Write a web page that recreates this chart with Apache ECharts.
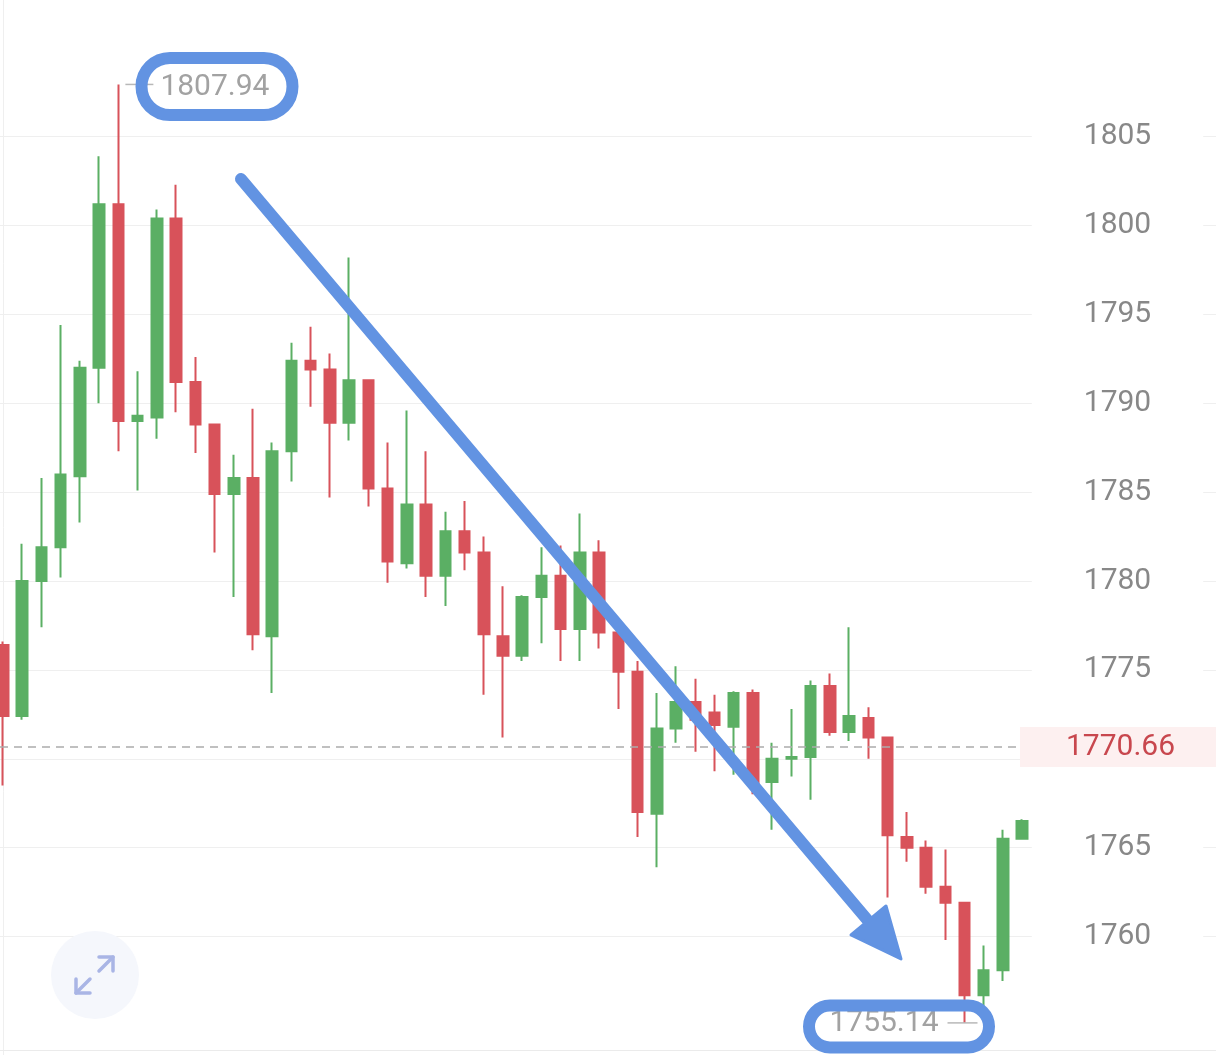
<!DOCTYPE html>
<html>
<head>
<meta charset="utf-8">
<script src="https://cdn.jsdelivr.net/npm/echarts@6/dist/echarts.min.js"></script>
<style>
  html, body { margin: 0; padding: 0; background: #fff; }
  #chart { width: 1216px; height: 1055px; }
</style>
</head>
<body>
<div id="chart"></div>
<script>
// candle values, left to right (open / close / low / high)
const opens  = [1776.4, 1772.4, 1780.0, 1781.9, 1785.9, 1792.0, 1801.2, 1789.0, 1789.2, 1800.4,
                1791.2, 1788.8, 1784.9, 1785.8, 1776.9, 1787.3, 1792.4, 1791.9, 1788.9, 1791.3,
                1785.2, 1781.0, 1784.3, 1780.3, 1782.8, 1781.6, 1776.9, 1775.8, 1779.1, 1780.3,
                1777.3, 1781.6, 1777.1, 1774.9, 1766.9, 1771.7, 1773.2, 1772.6, 1771.8, 1773.7,
                1768.7, 1770.0, 1770.1, 1774.1, 1771.5, 1772.3, 1771.2, 1765.6, 1765.0, 1762.8,
                1761.9, 1756.7, 1758.1, 1765.5];
const closes = [1772.4, 1780.0, 1781.9, 1786.0, 1792.0, 1801.2, 1789.0, 1789.3, 1800.4, 1791.2,
                1788.8, 1784.9, 1785.8, 1777.0, 1787.3, 1792.4, 1791.9, 1788.9, 1791.3, 1785.2,
                1781.1, 1784.3, 1780.3, 1782.8, 1781.6, 1777.0, 1775.8, 1779.1, 1780.3, 1777.3,
                1781.6, 1777.1, 1774.9, 1767.0, 1771.7, 1773.2, 1772.2, 1771.9, 1773.7, 1768.6,
                1770.0, 1770.1, 1774.1, 1771.5, 1772.4, 1771.2, 1765.7, 1765.0, 1762.8, 1761.9,
                1756.7, 1758.1, 1765.5, 1766.5];
const lows   = [1768.5, 1772.2, 1777.4, 1780.2, 1783.3, 1790.0, 1787.3, 1785.1, 1788.0, 1789.5,
                1787.2, 1781.6, 1779.1, 1776.1, 1773.7, 1785.6, 1789.8, 1784.7, 1787.9, 1784.2,
                1779.9, 1780.7, 1779.1, 1778.6, 1780.6, 1773.6, 1771.2, 1775.5, 1776.5, 1775.5,
                1775.5, 1776.2, 1772.8, 1765.6, 1763.9, 1770.9, 1770.4, 1769.3, 1769.1, 1768.0,
                1766.0, 1769.0, 1767.7, 1771.3, 1771.0, 1770.0, 1762.2, 1764.2, 1762.4, 1759.8,
                1755.14, 1756.0, 1757.5, 1765.5];
const highs  = [1776.6, 1782.1, 1785.8, 1794.4, 1792.4, 1803.9, 1807.94, 1791.8, 1800.9, 1802.3,
                1792.6, 1788.8, 1787.1, 1789.7, 1787.8, 1793.4, 1794.3, 1792.8, 1798.2, 1791.3,
                1787.8, 1789.6, 1787.3, 1783.9, 1784.5, 1782.5, 1779.7, 1779.2, 1781.9, 1782.0,
                1783.8, 1782.3, 1777.2, 1775.5, 1773.7, 1775.2, 1774.5, 1773.6, 1773.8, 1773.9,
                1770.9, 1772.8, 1774.4, 1774.8, 1777.4, 1772.9, 1771.2, 1767.0, 1765.4, 1764.9,
                1761.9, 1759.5, 1766.0, 1766.6];

const lastPrice = 1770.66;
const tickValues = [1760, 1765, 1770, 1775, 1780, 1785, 1790, 1795, 1800, 1805];
const priceMin = 1750;
const priceMax = 1815;
const priceStep = 5;

const UP = '#5baf64';
const DOWN = '#d8525a';
const BLUE = '#6293e2';
const FONT = 'Roboto';

const candles = opens.map((o, i) => [i, o, closes[i], lows[i], highs[i]]);

const chart = echarts.init(document.getElementById('chart'));

// price range is taller than the canvas, only ~1753..1812 shows
const gridTop = -41.05;
const gridHeight = 1155.3;

const option = {
  animation: false,
  backgroundColor: '#fff',
  grid: [
    { left: 0, width: 1020, top: gridTop, height: gridHeight, outerBoundsMode: 'none', containLabel: false },
    { left: 0, right: 0, top: gridTop, height: gridHeight, outerBoundsMode: 'none', containLabel: false }
  ],
  xAxis: [
    { gridIndex: 0, type: 'value', min: -0.156, max: 52.886, show: false },
    { gridIndex: 1, type: 'value', min: 0, max: 1, show: false }
  ],
  yAxis: [
    {
      gridIndex: 0, type: 'value', position: 'right',
      min: priceMin, max: priceMax, interval: priceStep,
      axisLine: { show: true, lineStyle: { color: '#efefef', width: 1 } },
      axisTick: { show: false }, axisLabel: { show: false }, splitLine: { show: false }
    },
    {
      gridIndex: 1, type: 'value', position: 'right', z: 3,
      min: priceMin, max: priceMax, interval: priceStep,
      axisLine: { show: false }, axisTick: { show: false }, splitLine: { show: false },
      axisLabel: {
        customValues: tickValues,
        inside: true, margin: 98.5, align: 'center',
        formatter: v => (tickValues.includes(v) ? String(v) : ''),
        color: '#888', fontSize: 30, fontFamily: FONT,
        backgroundColor: '#fff', padding: [10, 52, 2, 52]
      }
    }
  ],
  series: [
    {
      // horizontal grid lines across the whole width
      type: 'line',
      xAxisIndex: 1, yAxisIndex: 1,
      z: 0,
      data: [],
      silent: true,
      markLine: {
        z: 1,
        animation: false,
        silent: true,
        symbol: ['none', 'none'],
        label: { show: false },
        emphasis: { disabled: true },
        lineStyle: { color: '#efefef', type: 'solid', width: 1 },
        data: tickValues.map(v => ({ yAxis: v }))
      }
    },
    {
      type: 'candlestick',
      xAxisIndex: 0, yAxisIndex: 0,
      z: 4,
      clip: true,
      barWidth: 11,
      encode: { x: 0, y: [1, 2, 3, 4] },
      data: candles,
      itemStyle: { color: UP, color0: DOWN, borderColor: UP, borderColor0: DOWN, borderWidth: 2 },
      emphasis: { disabled: true },
      markPoint: {
        z: 5,
        animation: false,
        silent: true,
        symbol: 'rect',
        itemStyle: { color: '#b8b8b8' },
        label: {
          color: '#a2a2a2', fontSize: 30, fontFamily: FONT,
          formatter: p => Number(p.value).toFixed(2)
        },
        data: [
          { type: 'max', valueDim: 'highest', symbolSize: [28, 1.5], symbolOffset: [21, 0],
            label: { position: 'right', distance: 7, offset: [0, 3] } },
          { type: 'min', valueDim: 'lowest', symbolSize: [30, 1.5], symbolOffset: [-2, 0],
            label: { position: 'left', distance: 9, offset: [0, 1] } }
        ]
      },
      markLine: {
        z: 5,
        animation: false,
        silent: true,
        symbol: ['none', 'none'],
        lineStyle: { color: '#acacac', type: [8, 6], width: 1.5 },
        label: {
          position: 'end', distance: 0,
          formatter: lastPrice.toFixed(2),
          color: '#c8474e', fontSize: 30, fontFamily: FONT, lineHeight: 30,
          backgroundColor: '#fdf0f0', padding: [6, 45, 4, 46]
        },
        data: [{ yAxis: lastPrice }]
      }
    }
  ],
  graphic: [
    // bottom border
    { type: 'line', z: 3, shape: { x1: 0, y1: 1050.5, x2: 1216, y2: 1050.5 },
      style: { stroke: '#ebebeb', lineWidth: 1 } },
    // expand button
    { type: 'circle', z: 6, shape: { cx: 95, cy: 975, r: 44 }, style: { fill: '#f5f7fc' } },
    { type: 'polyline', z: 7, shape: { points: [[99, 971], [113, 957]] },
      style: { stroke: '#a9b5e5', lineWidth: 3.5, lineCap: 'round' } },
    { type: 'polyline', z: 7, shape: { points: [[99, 957], [113, 957], [113, 971]] },
      style: { stroke: '#a9b5e5', lineWidth: 3.5, fill: null, lineCap: 'round', lineJoin: 'round' } },
    { type: 'polyline', z: 7, shape: { points: [[90, 979], [76, 993]] },
      style: { stroke: '#a9b5e5', lineWidth: 3.5, lineCap: 'round' } },
    { type: 'polyline', z: 7, shape: { points: [[76, 979], [76, 993], [90, 993]] },
      style: { stroke: '#a9b5e5', lineWidth: 3.5, fill: null, lineCap: 'round', lineJoin: 'round' } },
    // hand-drawn annotations
    { type: 'rect', z: 100, shape: { x: 141.5, y: 58, width: 151, height: 57, r: 28.5 },
      style: { fill: null, stroke: BLUE, lineWidth: 12 } },
    { type: 'rect', z: 100, shape: { x: 809, y: 1005.5, width: 180, height: 42, r: 21 },
      style: { fill: null, stroke: BLUE, lineWidth: 12 } },
    { type: 'line', z: 100, shape: { x1: 241, y1: 179, x2: 870, y2: 923 },
      style: { stroke: BLUE, lineWidth: 12, lineCap: 'round' } },
    { type: 'polygon', z: 100, shape: { points: [[851, 935], [886, 906], [901, 959]] },
      style: { fill: BLUE, stroke: BLUE, lineWidth: 3, lineJoin: 'round' } }
  ]
};

chart.setOption(option);
</script>
</body>
</html>
